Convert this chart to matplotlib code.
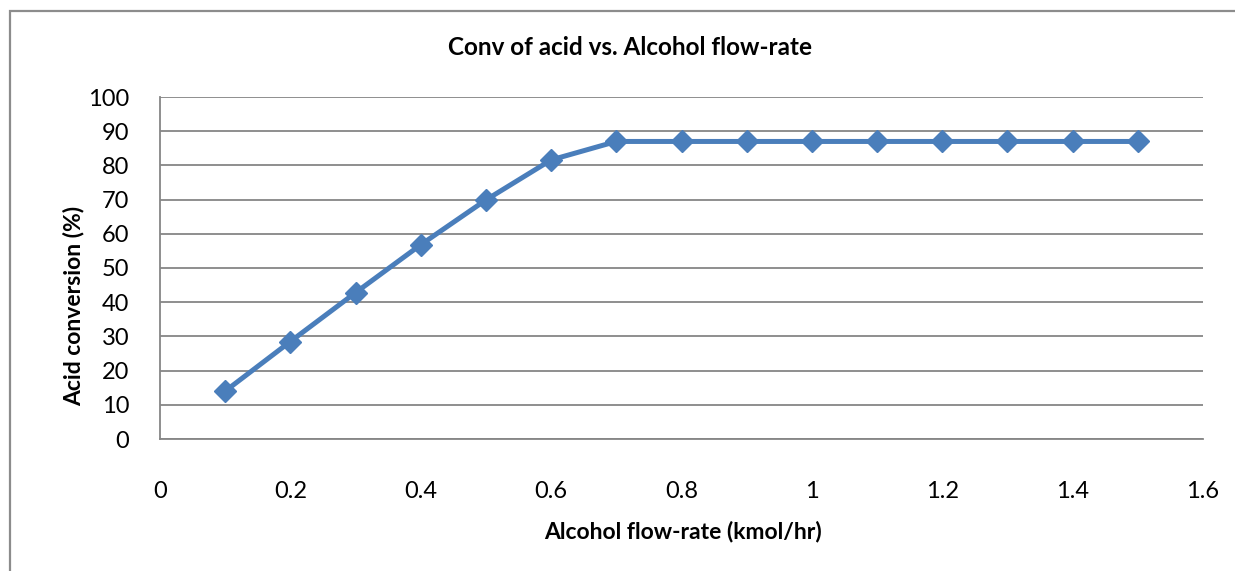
import matplotlib
matplotlib.use('Agg')
import matplotlib.pyplot as plt
from matplotlib.patches import Rectangle

# alcohol feed rate (kmol/hr) and resulting acid conversion (%)
flow_rate = [0.1, 0.2, 0.3, 0.4, 0.5, 0.6, 0.7, 0.8, 0.9, 1.0, 1.1, 1.2, 1.3, 1.4, 1.5]
conversion = [14.0, 28.5, 42.8, 56.8, 69.9, 81.6, 87.0, 87.0, 87.0, 87.0, 87.0, 87.0, 87.0, 87.0, 87.0]

x_ticks = [0, 0.2, 0.4, 0.6, 0.8, 1, 1.2, 1.4, 1.6]
x_ticklabels = ['0', '0.2', '0.4', '0.6', '0.8', '1', '1.2', '1.4', '1.6']
y_ticks = list(range(0, 101, 10))

plt.rcParams['font.family'] = ['Lato', 'DejaVu Sans']

W, H = 1235, 571
fig = plt.figure(figsize=(W / 100, H / 100), dpi=100)
fig.patch.set_facecolor('white')

# chart-area frame (runs off the right and bottom of the image)
fig.patches.append(Rectangle((10 / W, -0.2), 1.2, (H - 11) / H + 0.2,
                             transform=fig.transFigure, fill=False,
                             edgecolor='#8c8c8c', linewidth=1.6))

ax = fig.add_axes([160 / W, (H - 439) / H, (1203 - 160) / W, (439 - 97) / H])

ax.plot(flow_rate, conversion, color='#4a7ebb', linewidth=3.6,
        marker='D', markersize=11, markerfacecolor='#4a7ebb',
        markeredgecolor='#4a7ebb', zorder=3)

ax.set_xlim(0, 1.6)
ax.set_ylim(0, 100)
ax.set_xticks(x_ticks)
ax.set_xticklabels(x_ticklabels)
ax.set_yticks(y_ticks)
ax.yaxis.grid(True, color='#868686', linewidth=1.3)
ax.set_axisbelow(True)

for side in ('top', 'right'):
    ax.spines[side].set_visible(False)
for side in ('left', 'bottom'):
    ax.spines[side].set_color('#868686')
    ax.spines[side].set_linewidth(1.3)

ax.tick_params(axis='both', length=0, labelsize=17, colors='black')
ax.tick_params(axis='x', pad=30)
ax.tick_params(axis='y', pad=22)

# title is centred on the whole chart area, not the plot area
ax.set_title('Conv of acid vs. Alcohol flow-rate', fontsize=17.5,
             fontweight='bold', x=0.4506, pad=30)
ax.set_xlabel('Alcohol flow-rate (kmol/hr)', fontsize=16.5, fontweight='bold')
ax.set_ylabel('Acid conversion (%)', fontsize=16.5, fontweight='bold')
ax.xaxis.set_label_coords(0.501, -0.24)
ax.yaxis.set_label_coords(-0.072, 0.389)

fig.savefig('out.png', dpi=100)
